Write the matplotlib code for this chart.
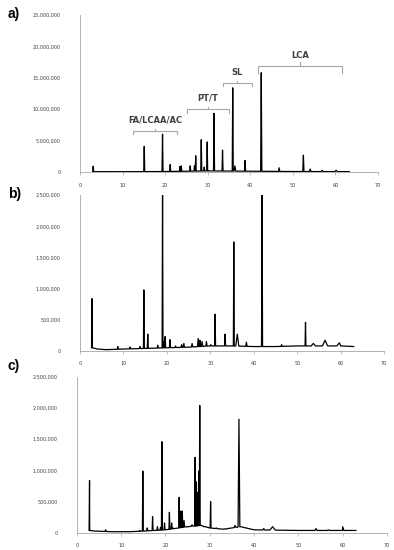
import numpy as np
import matplotlib
matplotlib.use("Agg")
import matplotlib.pyplot as plt

# ---- data (retention time in min, abundance) ----
# panel a
a_rt = [3.1, 15.1, 19.4, 21.2, 23.5, 23.8, 25.9, 26.9, 27.2, 28.5, 29.2, 29.9, 31.5,
        33.5, 35.9, 36.4, 38.8, 42.6, 46.8, 52.5, 54.1, 56.9, 60.2]
a_h = [0.95e6, 4.1e6, 6.05e6, 1.2e6, 0.9e6, 1.0e6, 1.0e6, 1.0e6, 2.6e6, 5.15e6, 0.8e6, 4.8e6, 9.35e6,
       3.5e6, 13.4e6, 1.0e6, 1.85e6, 15.8e6, 0.7e6, 2.7e6, 0.5e6, 0.3e6, 0.3e6]
a_w = [0.12, 0.12, 0.12, 0.12, 0.12, 0.12, 0.12, 0.12, 0.12, 0.12, 0.12, 0.12, 0.12,
       0.12, 0.12, 0.2, 0.12, 0.14, 0.15, 0.14, 0.2, 0.25, 0.3]
a_base_t = [3.0, 10, 20, 30, 40, 50, 63.3]
a_base_y = [0.08e6, 0.07e6, 0.1e6, 0.2e6, 0.15e6, 0.1e6, 0.08e6]

# panel b
b_rt = [2.76, 8.7, 11.5, 13.8, 14.7, 15.6, 17.9, 19.0, 19.3, 19.6, 20.7, 22.0, 23.4, 23.9,
        25.8, 27.2, 27.6, 28.1, 29.1, 30.1, 31.1, 33.4, 35.4, 36.2, 38.3, 41.9, 46.4,
        51.9, 53.7, 56.4, 59.7]
b_h = [0.84e6, 0.07e6, 0.06e6, 0.07e6, 0.98e6, 0.27e6, 0.09e6, 2.6e6, 0.15e6, 0.23e6, 0.18e6, 0.08e6, 0.1e6, 0.12e6,
       0.12e6, 0.2e6, 0.17e6, 0.15e6, 0.15e6, 0.1e6, 0.59e6, 0.27e6, 1.75e6, 0.27e6, 0.14e6, 2.6e6, 0.1e6,
       0.46e6, 0.12e6, 0.17e6, 0.13e6]
b_w = [0.1, 0.12, 0.12, 0.12, 0.1, 0.12, 0.12, 0.1, 0.1, 0.12, 0.12, 0.15, 0.15, 0.15,
       0.15, 0.15, 0.12, 0.15, 0.15, 0.2, 0.1, 0.12, 0.1, 0.35, 0.15, 0.12, 0.15,
       0.1, 0.5, 0.6, 0.6]
b_base_t = [2.9, 4, 6, 10, 15, 20, 25, 30, 35, 40, 45, 50, 55, 60, 63.0]
b_base_y = [0.05e6, 0.03e6, 0.02e6, 0.03e6, 0.04e6, 0.05e6, 0.06e6, 0.08e6, 0.08e6, 0.07e6, 0.07e6, 0.08e6, 0.08e6, 0.08e6, 0.07e6]

# panel c
c_rt = [2.87, 6.5, 11.2, 14.2, 14.9, 15.9, 17.1, 18.2, 18.9, 19.2, 19.8, 20.9, 21.4, 21.7,
        23.1, 23.5, 23.8, 24.2, 26.0, 26.7, 26.9, 27.3, 27.5, 27.75, 28.7, 30.2, 31.5,
        33.8, 35.7, 36.6, 42.2, 44.2, 54.0, 56.8, 60.0]
c_h = [0.84e6, 0.05e6, 0.02e6, 0.04e6, 0.99e6, 0.08e6, 0.26e6, 0.1e6, 0.09e6, 1.46e6, 0.16e6, 0.33e6, 0.16e6, 0.08e6,
       0.57e6, 0.35e6, 0.35e6, 0.2e6, 0.13e6, 1.21e6, 0.82e6, 0.65e6, 0.99e6, 2.04e6, 0.1e6, 0.5e6, 0.08e6,
       0.06e6, 0.12e6, 1.82e6, 0.07e6, 0.1e6, 0.07e6, 0.05e6, 0.1e6]
c_w = [0.1, 0.15, 0.15, 0.12, 0.1, 0.12, 0.1, 0.12, 0.12, 0.1, 0.12, 0.1, 0.12, 0.12,
       0.1, 0.12, 0.12, 0.15, 0.2, 0.08, 0.08, 0.08, 0.08, 0.1, 0.2, 0.1, 0.2,
       0.2, 0.2, 0.2, 0.2, 0.6, 0.25, 0.25, 0.3]
c_base_t = [2.9, 4, 8, 12, 15, 20, 23, 25, 28, 30, 33, 37, 40, 50, 60, 63.0]
c_base_y = [0.04e6, 0.03e6, 0.02e6, 0.02e6, 0.03e6, 0.05e6, 0.08e6, 0.1e6, 0.12e6, 0.08e6, 0.06e6, 0.1e6, 0.05e6, 0.04e6, 0.04e6, 0.04e6]

# brackets in panel a
br_labels = ["FA/LCAA/AC", "PT/T", "SL", "LCA"]
br_start = [12.5, 25.2, 33.5, 41.8]
br_end = [22.7, 35.0, 40.5, 61.5]
br_level = [6.6e6, 10.0e6, 14.2e6, 16.8e6]


def trace(rt, h, w, bt, by):
    xs = list(bt)
    ys = list(by)
    for r, hh, ww in zip(rt, h, w):
        b0 = np.interp(r - ww, bt, by)
        b1 = np.interp(r + ww, bt, by)
        xs += [r - ww, r, r + ww]
        ys += [b0, hh, b1]
    order = np.argsort(xs, kind="stable")
    return np.array(xs)[order], np.array(ys)[order]


gray = "#a6a6a6"


def style(ax, ymax, ystep):
    ax.set_xlim(0, 70)
    ax.set_ylim(0, ymax)
    ax.set_xticks(np.arange(0, 71, 10))
    ax.set_yticks(np.arange(0, ymax + 1, ystep))
    ax.set_yticklabels(["{:,.0f}".format(v) for v in np.arange(0, ymax + 1, ystep)])
    for s in ["top", "right"]:
        ax.spines[s].set_visible(False)
    for s in ["left", "bottom"]:
        ax.spines[s].set_color(gray)
        ax.spines[s].set_linewidth(0.6)
    ax.tick_params(axis="x", length=2.5, width=0.5, color=gray, labelsize=3.5,
                   labelcolor="#404040", pad=5)
    ax.tick_params(axis="y", length=0, labelsize=3.5, labelcolor="#404040", pad=14)


fig = plt.figure(figsize=(3.94, 5.5), dpi=100)
ax_a = fig.add_axes([0.203, 0.687, 0.756, 0.286])
ax_b = fig.add_axes([0.203, 0.362, 0.772, 0.283])
ax_c = fig.add_axes([0.195, 0.031, 0.787, 0.284])

for ax, d in [(ax_a, (a_rt, a_h, a_w, a_base_t, a_base_y)),
              (ax_b, (b_rt, b_h, b_w, b_base_t, b_base_y)),
              (ax_c, (c_rt, c_h, c_w, c_base_t, c_base_y))]:
    x, y = trace(*d)
    ax.plot(x, y, color="black", lw=0.9)

style(ax_a, 25e6, 5e6)
style(ax_b, 2.5e6, 0.5e6)
style(ax_c, 2.5e6, 0.5e6)

# brackets
for lab, x0, x1, lv in zip(br_labels, br_start, br_end, br_level):
    dn = 0.55e6 if lab != "LCA" else 1.1e6
    ax_a.plot([x0, x0, x1, x1], [lv - dn, lv, lv, lv - dn], color=gray, lw=0.8)
    xm = (x0 + x1) / 2
    ax_a.plot([xm, xm], [lv, lv + dn * 0.6], color=gray, lw=0.8)
    ax_a.text(xm, lv + 1.0e6, lab, ha="center", va="bottom", fontsize=6,
              color="#404040", fontweight="semibold")

for lab, yy in [("a)", 0.975), ("b)", 0.648), ("c)", 0.335)]:
    fig.text(0.02, yy, lab, fontsize=10, fontweight="bold", family="Liberation Sans",
             va="center")

fig.savefig("out.png", dpi=100)
